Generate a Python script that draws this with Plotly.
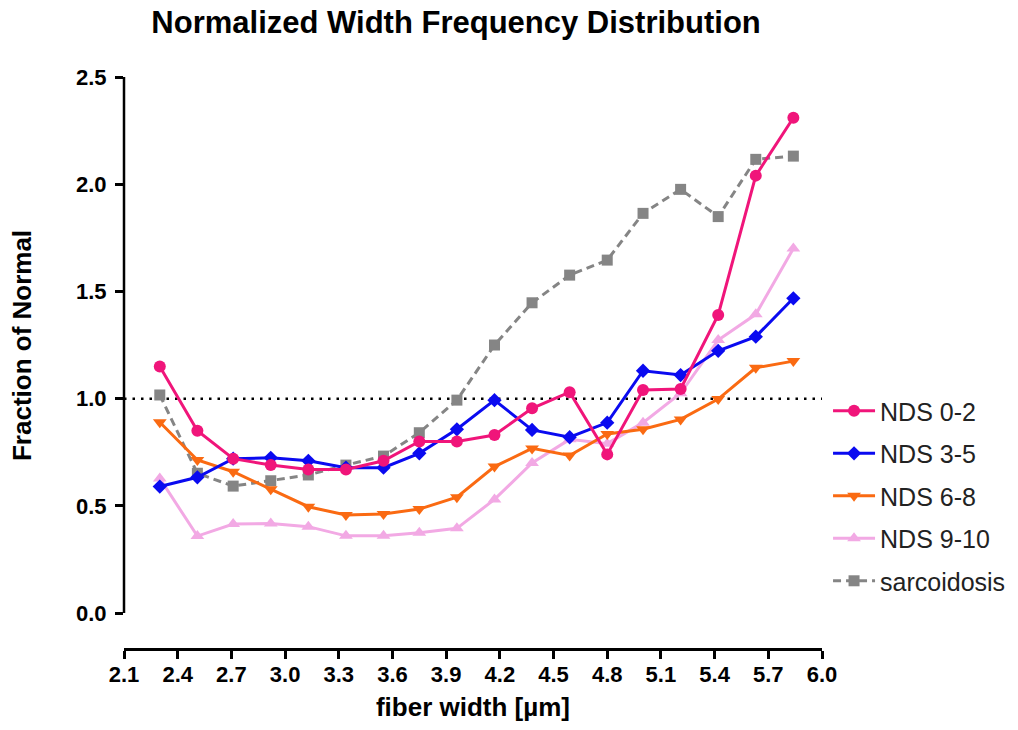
import plotly.graph_objects as go

# ---- data ----
fiber_width = [2.30, 2.51, 2.71, 2.92, 3.13, 3.34, 3.55, 3.75, 3.96, 4.17,
               4.38, 4.59, 4.80, 5.00, 5.21, 5.42, 5.63, 5.84]

nds_0_2 = [1.15, 0.85, 0.72, 0.69, 0.67, 0.67, 0.71, 0.80, 0.80, 0.83,
           0.955, 1.03, 0.74, 1.04, 1.045, 1.39, 2.04, 2.31]
nds_3_5 = [0.59, 0.633, 0.72, 0.724, 0.71, 0.678, 0.678, 0.745, 0.857, 0.993,
           0.854, 0.82, 0.888, 1.13, 1.11, 1.223, 1.289, 1.468]
nds_6_8 = [0.89, 0.714, 0.659, 0.577, 0.496, 0.457, 0.462, 0.485, 0.540, 0.683,
           0.768, 0.735, 0.835, 0.857, 0.903, 0.998, 1.144, 1.175]
nds_9_10 = [0.628, 0.359, 0.415, 0.418, 0.403, 0.36, 0.36, 0.375, 0.395, 0.53,
            0.70, 0.81, 0.79, 0.888, 1.025, 1.273, 1.393, 1.70]
sarcoidosis = [1.017, 0.652, 0.592, 0.617, 0.644, 0.69, 0.732, 0.841, 0.993, 1.25,
               1.447, 1.576, 1.646, 1.864, 1.976, 1.849, 2.116, 2.131]

x_tickvals = [2.1, 2.4, 2.7, 3.0, 3.3, 3.6, 3.9, 4.2, 4.5, 4.8, 5.1, 5.4, 5.7, 6.0]
x_ticktext = ["2.1", "2.4", "2.7", "3.0", "3.3", "3.6", "3.9", "4.2", "4.5",
              "4.8", "5.1", "5.4", "5.7", "6.0"]
y_tickvals = [0.0, 0.5, 1.0, 1.5, 2.0, 2.5]
y_ticktext = ["0.0", "0.5", "1.0", "1.5", "2.0", "2.5"]
reference_level = 1.0

FONT = "Liberation Sans, Arial, sans-serif"

# drawing order bottom -> top
series = [
    ("sarcoidosis", sarcoidosis, "#858585", "square", 11, "8px,5px", 5),
    ("NDS 9-10", nds_9_10, "#F2A9E4", "triangle-up", 12, "solid", 4),
    ("NDS 6-8", nds_6_8, "#FA6A12", "triangle-down", 12, "solid", 3),
    ("NDS 3-5", nds_3_5, "#0A0AF0", "diamond", 11, "solid", 2),
    ("NDS 0-2", nds_0_2, "#F0157A", "circle", 12, "solid", 1),
]

fig = go.Figure()
for name, vals, color, sym, size, dash, rank in series:
    fig.add_trace(go.Scatter(
        x=fiber_width, y=vals, name=name, mode="lines+markers",
        line=dict(color=color, width=3, dash=dash),
        marker=dict(symbol=sym, size=size, color=color, line=dict(width=0)),
        legendgroup=name, legendrank=rank,
    ))

# dotted reference line at 1.0
fig.add_shape(type="line", xref="x", yref="y", x0=x_tickvals[0], x1=x_tickvals[-1],
              y0=reference_level, y1=reference_level, layer="below",
              line=dict(color="black", width=2.5, dash="2.5px,6px"))
# detached y axis line (0 .. 2.5)
fig.add_shape(type="line", xref="paper", yref="y", x0=0, x1=0,
              y0=y_tickvals[0], y1=y_tickvals[-1],
              line=dict(color="black", width=2.5))

# y axis title as rotated annotation
fig.add_annotation(text="Fraction of Normal", xref="paper", yref="paper",
                   x=-0.146, y=0.529, xanchor="center", yanchor="middle",
                   textangle=-90, showarrow=False,
                   font=dict(size=26, weight="bold", family=FONT, color="black"))

fig.update_layout(
    width=1018, height=730,
    margin=dict(l=124, r=196, t=77, b=82, autoexpand=False),
    paper_bgcolor="white", plot_bgcolor="white",
    font=dict(family=FONT, color="black"),
    title=dict(text="Normalized Width Frequency Distribution",
               font=dict(size=31, weight="bold", family=FONT, color="black"),
               x=0.448, xref="container", xanchor="center",
               y=0.97, yref="container", yanchor="middle"),
    showlegend=True,
    legend=dict(xref="container", yref="container",
                x=0.8134, xanchor="left", y=0.3205, yanchor="middle",
                traceorder="grouped", tracegroupgap=7, itemwidth=42,
                font=dict(size=25, family=FONT, color="#222222"),
                bgcolor="rgba(0,0,0,0)"),
    xaxis=dict(range=[2.1, 6.0], tickvals=x_tickvals, ticktext=x_ticktext,
               showline=True, linecolor="black", linewidth=2.5,
               ticks="outside", ticklen=8, tickwidth=2.5, tickcolor="black",
               ticklabelstandoff=-3,
               showgrid=False, zeroline=False,
               tickfont=dict(size=22, weight="bold", family=FONT),
               title=dict(text="fiber width [µm]", standoff=12,
                          font=dict(size=26, weight="bold", family=FONT))),
    yaxis=dict(range=[-0.163, 2.5], tickvals=y_tickvals, ticktext=y_ticktext,
               showline=False, ticks="outside", ticklen=8, tickwidth=2.5,
               ticklabelstandoff=4,
               tickcolor="black", showgrid=False, zeroline=False,
               tickfont=dict(size=22, weight="bold", family=FONT)),
)

fig.write_html("out.html")
